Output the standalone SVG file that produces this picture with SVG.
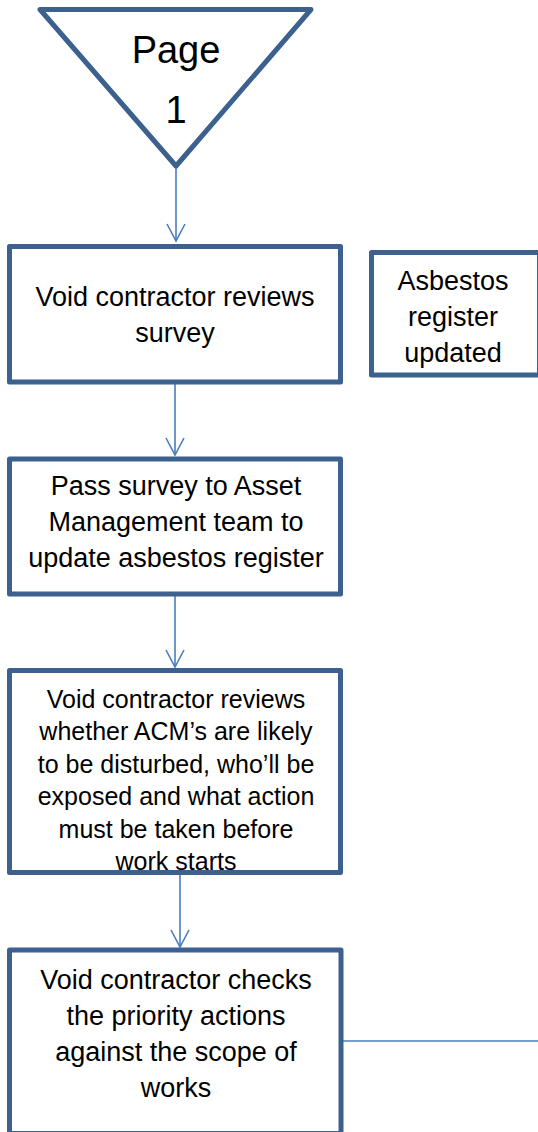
<svg xmlns="http://www.w3.org/2000/svg" width="538" height="1132" viewBox="0 0 538 1132">
<defs>
<style>
.node{fill:#FFFFFF;stroke:#3C618F;stroke-width:5;stroke-linejoin:round}
.t{font-family:"Liberation Sans",Arial,sans-serif;fill:#000000;text-anchor:middle}
.t27{font-size:27px}
.t25{font-size:25px}
.t38{font-size:38px}
.conn{stroke:#4A7EBB;stroke-width:1.6;fill:none}
</style>
<marker id="arrow" viewBox="0 0 20 20" refX="18" refY="10" markerWidth="20" markerHeight="20" markerUnits="userSpaceOnUse" orient="auto">
<path d="M1,1 L18,10 L1,19" fill="none" stroke="#4A7EBB" stroke-width="1.6"/>
</marker>
</defs>
<rect width="538" height="1132" fill="#FFFFFF"/>
<g id="connectors">
<line class="conn" x1="176" y1="168" x2="176" y2="241" marker-end="url(#arrow)"/>
<line class="conn" x1="175" y1="384" x2="175" y2="455" marker-end="url(#arrow)"/>
<line class="conn" x1="175" y1="596" x2="175" y2="667" marker-end="url(#arrow)"/>
<line class="conn" x1="180" y1="875" x2="180" y2="947" marker-end="url(#arrow)"/>
<line class="conn" x1="343" y1="1041" x2="540" y2="1041"/>
</g>
<g id="page1">
<polygon class="node" points="40,9.5 311,9.5 176,166"/>
<text class="t t38" x="176" y="63">Page</text>
<text class="t t38" x="176" y="123">1</text>
</g>
<g id="review-survey">
<rect class="node" x="9.5" y="246.5" width="331" height="135.5"/>
<text class="t t27" x="175" y="306">Void contractor reviews</text>
<text class="t t27" x="175" y="342">survey</text>
</g>
<g id="register-updated">
<rect class="node" x="371.5" y="252.5" width="168" height="122.5"/>
<text class="t t27" x="453" y="290">Asbestos</text>
<text class="t t27" x="453" y="326">register</text>
<text class="t t27" x="453" y="362">updated</text>
</g>
<g id="pass-survey">
<rect class="node" x="9.5" y="459" width="331" height="135"/>
<text class="t t27" x="176" y="495">Pass survey to Asset</text>
<text class="t t27" x="176" y="531">Management team to</text>
<text class="t t27" x="176" y="567">update asbestos register</text>
</g>
<g id="review-acms">
<rect class="node" x="9.5" y="670.5" width="331" height="202"/>
<text class="t t25" x="176" y="708">Void contractor reviews</text>
<text class="t t25" x="176" y="740.4">whether ACM’s are likely</text>
<text class="t t25" x="176" y="772.8">to be disturbed, who’ll be</text>
<text class="t t25" x="176" y="805.2">exposed and what action</text>
<text class="t t25" x="176" y="837.6">must be taken before</text>
<text class="t t25" x="176" y="870">work starts</text>
</g>
<g id="check-priority">
<rect class="node" x="9.5" y="950" width="331.5" height="183.5"/>
<text class="t t27" x="176" y="989">Void contractor checks</text>
<text class="t t27" x="176" y="1025">the priority actions</text>
<text class="t t27" x="176" y="1061">against the scope of</text>
<text class="t t27" x="176" y="1097">works</text>
</g>
</svg>
